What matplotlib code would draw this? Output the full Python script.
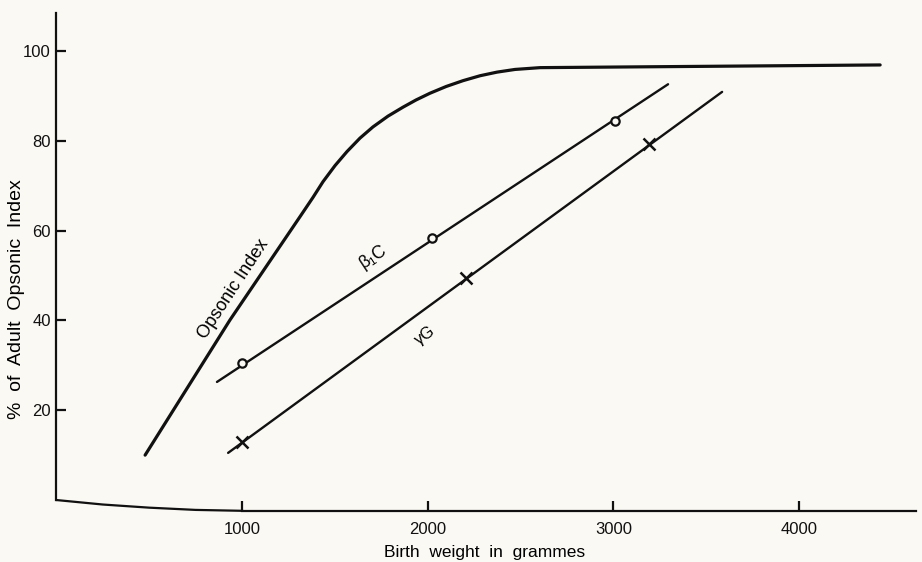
import matplotlib.pyplot as plt

# curves (birth weight in g, % of adult opsonic index)
opsonic_x = [478, 935, 1312, 1382, 1436, 1501, 1565, 1635, 1705, 1786,
             1867, 1937, 2012, 2099, 2190, 2282, 2373, 2470, 2605, 4436]
opsonic_y = [10.0, 40.1, 63.1, 67.4, 70.9, 74.5, 77.6, 80.6, 83.1, 85.5,
             87.5, 89.1, 90.6, 92.1, 93.4, 94.5, 95.3, 95.9, 96.3, 96.9]

b1c_line_x = [865, 3294]
b1c_line_y = [26.3, 92.6]
b1c_pts_x = [1000, 2023, 3009]
b1c_pts_y = [30.5, 58.4, 84.4]

gg_line_x = [925, 3585]
gg_line_y = [10.5, 90.9]
gg_pts_x = [1000, 2206, 3192]
gg_pts_y = [12.9, 49.4, 79.3]

xticks = [1000, 2000, 3000, 4000]
yticks = [20, 40, 60, 80, 100]

# hand-drawn bend of the baseline near the origin
base_x = [0, 250, 500, 750, 1000]
base_y = [0, -1.0, -1.7, -2.2, -2.4]

bg = '#fbf9f3'
plt.rcParams['font.family'] = ['Liberation Sans', 'DejaVu Sans']

fig = plt.figure(figsize=(9.22, 5.62), dpi=100, facecolor=bg)
ax = fig.add_axes([0.0611, 0.0863, 0.9366, 0.9028])
ax.set_facecolor(bg)
ax.set_xlim(0, 4650)
ax.set_ylim(-3, 110)

ax.plot(opsonic_x, opsonic_y, color='#111', lw=2.3, solid_capstyle='round',
        solid_joinstyle='round')
ax.plot(b1c_line_x, b1c_line_y, color='#111', lw=1.7, solid_capstyle='round')
ax.plot(b1c_pts_x, b1c_pts_y, 'o', ms=6, mfc=bg, mec='#111', mew=1.6)
ax.plot(gg_line_x, gg_line_y, color='#111', lw=1.7, solid_capstyle='round')
ax.plot(gg_pts_x, gg_pts_y, 'x', ms=8, mec='#111', mew=1.8)

ax.plot(base_x, base_y, color='#111', lw=1.6, clip_on=False)

for s in ['top', 'right']:
    ax.spines[s].set_visible(False)
ax.spines['left'].set_position(('data', 0))
ax.spines['left'].set_bounds(0, 108.5)
ax.spines['bottom'].set_position(('data', -2.5))
ax.spines['bottom'].set_bounds(1000, 4630)
for s in ['left', 'bottom']:
    ax.spines[s].set_linewidth(1.6)
    ax.spines[s].set_color('#111')

ax.set_xticks(xticks)
ax.set_yticks(yticks)
ax.tick_params(direction='in', length=7, width=1.6, colors='#111',
               labelsize=12)
ax.tick_params(axis='x', pad=8)
ax.tick_params(axis='y', pad=4)

ax.text(955, 47.0, 'Opsonic Index', rotation=56.8, ha='center', va='center',
        fontsize=13)
ax.text(1705, 54.2, 'β₁C', rotation=33.5, ha='center', va='center',
        fontsize=13)
ax.text(1985, 36.7, 'γG', rotation=36.2, ha='center', va='center',
        fontsize=12)

fig.text(485 / 922, 1 - 552 / 562, 'Birth  weight  in  grammes', ha='center',
         va='center', fontsize=12.5)
fig.text(17 / 922, 1 - 299 / 562, '%  of  Adult  Opsonic  Index', rotation=90,
         ha='center', va='center', fontsize=14)

fig.savefig('out.png', dpi=100, facecolor=bg)
